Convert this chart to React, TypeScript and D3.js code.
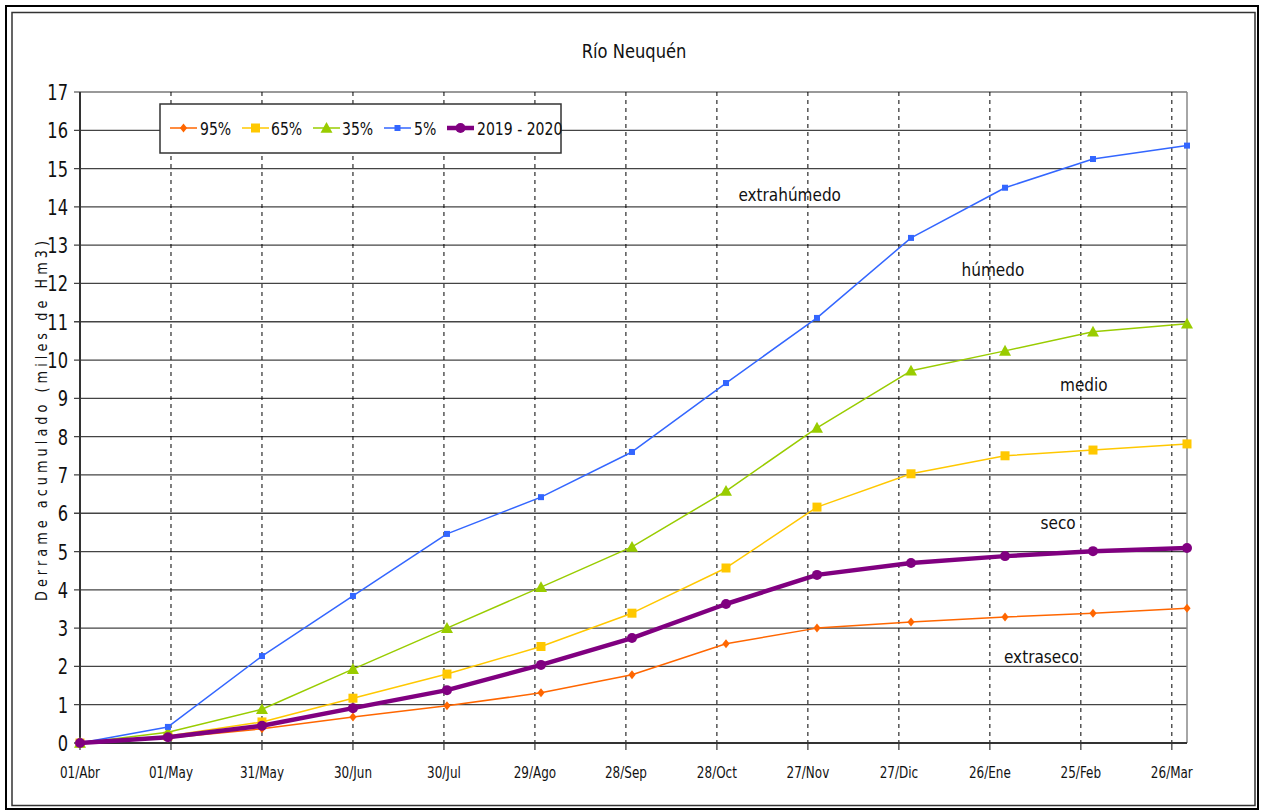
import React from "react";
import * as d3 from "d3";

const tickDays = [0, 30, 60, 90, 120, 150, 180, 210, 240, 270, 300, 330, 360];
const tickLabels = ["01/Abr", "01/May", "31/May", "30/Jun", "30/Jul", "29/Ago", "28/Sep", "28/Oct", "27/Nov", "27/Dic", "26/Ene", "25/Feb", "26/Mar"];
const dataDays = [0, 29, 60, 90, 121, 152, 182, 213, 243, 274, 305, 334, 365];

const p95 = [0, 0.13, 0.37, 0.68, 0.97, 1.31, 1.78, 2.59, 3.0, 3.16, 3.29, 3.39, 3.52];
const p65 = [0, 0.18, 0.55, 1.17, 1.8, 2.52, 3.39, 4.57, 6.16, 7.03, 7.5, 7.65, 7.81];
const p35 = [0, 0.28, 0.88, 1.93, 3.0, 4.07, 5.12, 6.58, 8.23, 9.72, 10.24, 10.74, 10.95];
const p5 = [0, 0.42, 2.27, 3.84, 5.46, 6.42, 7.6, 9.4, 11.1, 13.19, 14.5, 15.25, 15.6];
const y1920 = [0, 0.15, 0.45, 0.91, 1.38, 2.04, 2.74, 3.63, 4.39, 4.7, 4.88, 5.01, 5.09];

const yTicks = d3.range(0, 18);

const zoneLabels = [
  { text: "extrahúmedo", day: 234, v: 14.15 },
  { text: "húmedo", day: 301, v: 12.2 },
  { text: "medio", day: 331, v: 9.2 },
  { text: "seco", day: 322.5, v: 5.6 },
  { text: "extraseco", day: 317, v: 2.1 },
];

const FONT = "'DejaVu Sans', sans-serif";

type Series = { name: string; values: number[]; color: string; width: number; marker: string; size: number };
const series: Series[] = [
  { name: "95%", values: p95, color: "#FF6600", width: 1.5, marker: "diamond", size: 9 },
  { name: "65%", values: p65, color: "#FFC800", width: 1.5, marker: "square", size: 9 },
  { name: "35%", values: p35, color: "#99CC00", width: 1.5, marker: "triangle", size: 12 },
  { name: "5%", values: p5, color: "#3366FF", width: 1.5, marker: "smallsquare", size: 6 },
  { name: "2019 - 2020", values: y1920, color: "#800080", width: 4.5, marker: "circle", size: 10 },
];

function Marker({ type, x, y, color, size }: { type: string; x: number; y: number; color: string; size: number }) {
  const h = size / 2;
  if (type === "diamond") return <path d={`M${x},${y - h}L${x + h * 0.8},${y}L${x},${y + h}L${x - h * 0.8},${y}Z`} fill={color} />;
  if (type === "square" || type === "smallsquare") return <rect x={x - h} y={y - h} width={size} height={size} fill={color} />;
  if (type === "triangle") return <path d={`M${x},${y - h}L${x + h},${y + h * 0.8}L${x - h},${y + h * 0.8}Z`} fill={color} />;
  return <circle cx={x} cy={y} r={h} fill={color} />;
}

function T({ x, y, sx, size, anchor, rot, ls, children }: { x: number; y: number; sx: number; size: number; anchor?: string; rot?: number; ls?: number; children: React.ReactNode }) {
  return (
    <text
      transform={`translate(${x},${y})${rot ? ` rotate(${rot})` : ""} scale(${sx},1)`}
      textAnchor={anchor || "start"}
      fontSize={size}
      letterSpacing={ls || 0}
      fill="#111"
    >
      {children}
    </text>
  );
}

export default function App() {
  const W = 1263, H = 812;
  const left = 80, right = 1187, top = 92, bottom = 743;
  const x = d3.scaleLinear().domain([0, 365]).range([left, right]);
  const y = d3.scaleLinear().domain([0, 17]).range([bottom, top]);
  const line = d3.line<number>().x((_, i) => x(dataDays[i])).y((d) => y(d));

  const legX = 160, legY = 104, legW = 401, legH = 49;
  const legItems = [
    { s: series[0], lx: 170, tx: 200 },
    { s: series[1], lx: 242, tx: 271 },
    { s: series[2], lx: 313, tx: 342 },
    { s: series[3], lx: 384, tx: 414 },
    { s: series[4], lx: 447, tx: 477 },
  ];

  return (
    <svg width={W} height={H} style={{ position: "absolute", left: 0, top: 0, background: "#fff" }} fontFamily={FONT}>
      <rect x={0} y={0} width={W} height={H} fill="#fff" />
      <rect x={6} y={6} width={1252} height={803} fill="none" stroke="#000" strokeWidth={2} />
      <rect x={12} y={12.5} width={1243} height={793} fill="none" stroke="#333" strokeWidth={1.5} />

      <T x={634} y={58} sx={0.86} size={19} anchor="middle">Río Neuquén</T>

      {yTicks.map((t) => (
        <line key={"h" + t} x1={left - 6} x2={right} y1={y(t)} y2={y(t)} stroke={t === 17 ? "#777" : "#444"} strokeWidth={1.3} />
      ))}
      {tickDays.slice(1).map((d) => (
        <line key={"v" + d} x1={x(d)} x2={x(d)} y1={top} y2={bottom} stroke="#000" strokeWidth={1} strokeDasharray="4,4" />
      ))}
      <line x1={right} x2={right} y1={top} y2={bottom} stroke="#888" strokeWidth={1.5} />
      <line x1={left} x2={left} y1={top} y2={bottom} stroke="#333" strokeWidth={2} />
      <line x1={left} x2={right} y1={bottom} y2={bottom} stroke="#333" strokeWidth={2} />
      {tickDays.map((d) => (
        <line key={"xt" + d} x1={x(d)} x2={x(d)} y1={bottom} y2={bottom + 7} stroke="#333" strokeWidth={1.2} />
      ))}

      {yTicks.map((t) => (
        <T key={"yl" + t} x={68} y={y(t) + 8} sx={0.74} size={22} anchor="end">{t}</T>
      ))}
      {tickDays.map((d, i) => (
        <T key={"xl" + d} x={x(d)} y={778} sx={0.8} size={15} anchor="middle">{tickLabels[i]}</T>
      ))}

      <T x={47} y={419} sx={0.8} size={16} anchor="middle" rot={-90} ls={5.1}>Derrame acumulado (miles de Hm3)</T>

      {series.map((s) => (
        <g key={s.name}>
          <path d={line(s.values) || ""} fill="none" stroke={s.color} strokeWidth={s.width} strokeLinejoin="round" />
          {s.values.map((v, i) => (
            <Marker key={i} type={s.marker} x={x(dataDays[i])} y={y(v)} color={s.color} size={s.size} />
          ))}
        </g>
      ))}

      {zoneLabels.map((z) => (
        <T key={z.text} x={x(z.day)} y={y(z.v)} sx={0.85} size={18} anchor="middle">{z.text}</T>
      ))}

      <rect x={legX} y={legY} width={legW} height={legH} fill="#fff" stroke="#333" strokeWidth={1.5} />
      {legItems.map(({ s, lx, tx }) => (
        <g key={"lg" + s.name}>
          <line x1={lx} x2={lx + 27} y1={128} y2={128} stroke={s.color} strokeWidth={s.width} />
          <Marker type={s.marker} x={lx + 13.5} y={128} color={s.color} size={s.size} />
          <T x={tx} y={135} sx={0.78} size={18}>{s.name}</T>
        </g>
      ))}
    </svg>
  );
}
